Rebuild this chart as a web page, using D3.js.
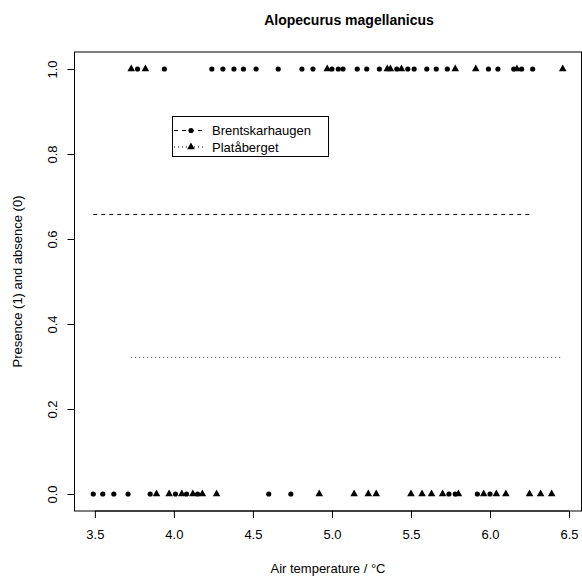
<!DOCTYPE html>
<html>
<head>
<meta charset="utf-8">
<script src="https://cdn.jsdelivr.net/npm/d3@7"></script>
<style>
  html, body { margin: 0; padding: 0; background: #fff; }
  svg { display: block; }
  text { font-family: "Liberation Sans", Arial, Helvetica, sans-serif; fill: #000; }
</style>
</head>
<body>
<svg id="chart" width="582" height="578"></svg>
<script>
// Air temperature (°C) at plots where the species was present (1) or absent (0)
const brentPresent = [3.77, 3.94, 4.24, 4.31, 4.38, 4.44, 4.52, 4.66, 4.81, 4.88,
  5.00, 5.04, 5.07, 5.16, 5.22, 5.30, 5.41, 5.48, 5.52, 5.60, 5.66, 5.73,
  5.99, 6.05, 6.15, 6.20, 6.27];
const brentAbsent = [3.49, 3.55, 3.62, 3.71, 3.85, 4.01, 4.08, 4.15, 4.60, 4.74,
  5.74, 5.78, 5.92, 6.00];
const plataPresent = [3.73, 3.82, 4.97, 5.35, 5.37, 5.44, 5.78, 5.91, 6.17, 6.46];
const plataAbsent = [3.89, 3.97, 4.05, 4.12, 4.18, 4.27, 4.92, 5.14, 5.23, 5.28,
  5.50, 5.57, 5.63, 5.70, 5.80, 5.96, 6.04, 6.10, 6.25, 6.32, 6.39];

const siteNames = ["Brentskarhaugen", "Platåberget"];
const xTicks = [3.5, 4.0, 4.5, 5.0, 5.5, 6.0, 6.5];
const yTicks = [0.0, 0.2, 0.4, 0.6, 0.8, 1.0];
const titleText = "Alopecurus magellanicus";
const xLabel = "Air temperature / °C";
const yLabel = "Presence (1) and absence (0)";

function toPoints(present, absent) {
  return present.map(t => ({ t, p: 1 })).concat(absent.map(t => ({ t, p: 0 })));
}
const sites = [
  { name: siteNames[0], pts: toPoints(brentPresent, brentAbsent), shape: "circle", dash: "4,4" },
  { name: siteNames[1], pts: toPoints(plataPresent, plataAbsent), shape: "triangle", dash: "1,3" }
];
// flat fitted probability per site, spanning that site's temperature range
sites.forEach(s => {
  s.fit = d3.mean(s.pts, d => d.p);
  s.ext = d3.extent(s.pts, d => d.t);
});

const svg = d3.select("#chart");
const plot = { left: 74.5, right: 581.5, top: 52, bottom: 511 };

const allT = sites.flatMap(s => s.pts.map(d => d.t));
const [tmin, tmax] = d3.extent(allT);
const pad = (tmax - tmin) * 0.04;
const x = d3.scaleLinear().domain([tmin - pad, tmax + pad]).range([plot.left, plot.right]);
const y = d3.scaleLinear().domain([-0.04, 1.04]).range([plot.bottom, plot.top]);

// frame
svg.append("rect")
  .attr("x", plot.left).attr("y", plot.top)
  .attr("width", plot.right - plot.left).attr("height", plot.bottom - plot.top)
  .attr("fill", "none").attr("stroke", "#000").attr("stroke-width", 1);

// axes
const xAxis = d3.axisBottom(x).tickValues(xTicks).tickFormat(d3.format(".1f"))
  .tickSize(7).tickPadding(12);
const gx = svg.append("g").attr("transform", `translate(0,${plot.bottom})`).call(xAxis);
gx.select(".domain").attr("d", `M${x(xTicks[0])},0H${x(xTicks[xTicks.length - 1])}`);
gx.selectAll("text").attr("font-size", 13).attr("font-family", "Liberation Sans, Arial, sans-serif");

const yAxis = d3.axisLeft(y).tickValues(yTicks).tickFormat(d3.format(".1f"))
  .tickSize(7).tickPadding(0);
const gy = svg.append("g").attr("transform", `translate(${plot.left},0)`).call(yAxis);
gy.select(".domain").attr("d", `M0,${y(yTicks[0])}V${y(yTicks[yTicks.length - 1])}`);
gy.selectAll(".tick text")
  .attr("font-size", 13).attr("font-family", "Liberation Sans, Arial, sans-serif")
  .attr("x", 0).attr("dy", 0)
  .attr("text-anchor", "middle")
  .attr("transform", "translate(-18,0) rotate(-90)");

// titles
svg.append("text").attr("x", 349).attr("y", 25)
  .attr("text-anchor", "middle").attr("font-size", 14).attr("font-weight", "bold")
  .text(titleText);
svg.append("text").attr("x", (plot.left + plot.right) / 2).attr("y", 573)
  .attr("text-anchor", "middle").attr("font-size", 13).text(xLabel);
svg.append("text")
  .attr("transform", `translate(22,${(plot.top + plot.bottom) / 2}) rotate(-90)`)
  .attr("text-anchor", "middle").attr("font-size", 13).text(yLabel);

// fitted lines
svg.append("g").selectAll("line").data(sites).join("line")
  .attr("x1", d => x(d.ext[0])).attr("x2", d => x(d.ext[1]))
  .attr("y1", d => Math.round(y(d.fit)) + 0.5).attr("y2", d => Math.round(y(d.fit)) + 0.5)
  .attr("stroke", d => d.shape === "circle" ? "#000" : "#555").attr("stroke-width", 1)
  .attr("stroke-dasharray", d => d.dash);

// observations
const circleSym = d3.symbol().type(d3.symbolCircle).size(21);
const triSym = d3.symbol().type(d3.symbolTriangle).size(25);
sites.forEach(s => {
  svg.append("g").selectAll("path").data(s.pts).join("path")
    .attr("d", s.shape === "circle" ? circleSym : triSym)
    .attr("transform", d => `translate(${x(d.t)},${y(d.p)})`)
    .attr("fill", "#000");
});

// legend
const lg = svg.append("g").attr("transform", "translate(172,116)");
lg.append("rect").attr("x", 0.5).attr("y", 0.5).attr("width", 156).attr("height", 40)
  .attr("fill", "#fff").attr("stroke", "#000");
sites.forEach((s, i) => {
  const cy = 14.5 + i * 16.5;
  lg.append("line").attr("x1", 2).attr("x2", 34).attr("y1", cy).attr("y2", cy)
    .attr("stroke", "#000").attr("stroke-dasharray", s.dash);
  lg.append("path").attr("d", s.shape === "circle" ? circleSym : triSym)
    .attr("transform", `translate(19,${cy})`).attr("fill", "#000");
  lg.append("text").attr("x", 40).attr("y", cy + 4.5).attr("font-size", 13).text(s.name);
});
</script>
</body>
</html>
